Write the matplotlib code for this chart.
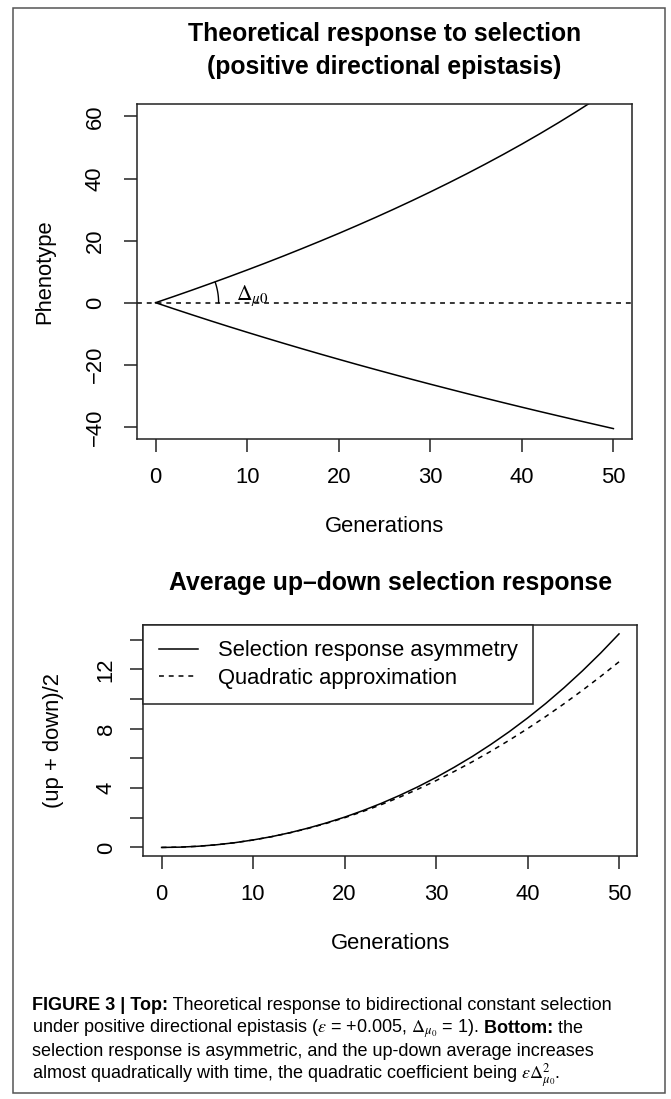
import numpy as np
import matplotlib
matplotlib.use('Agg')
import matplotlib.pyplot as plt
from matplotlib.patches import Rectangle
from matplotlib.ticker import FuncFormatter

plt.rcParams['font.family'] = ['Liberation Sans', 'DejaVu Sans']
plt.rcParams['mathtext.fontset'] = 'stix'

# Response to bidirectional selection, every 2 generations
generations = [0, 2, 4, 6, 8, 10, 12, 14, 16, 18, 20, 22, 24, 26, 28, 30,
               32, 34, 36, 38, 40, 42, 44, 46, 48, 50]
up = [0.00, 2.02, 4.08, 6.19, 8.34, 10.54, 12.78, 15.08, 17.44, 19.85, 22.31,
      24.85, 27.44, 30.11, 32.85, 35.67, 38.57, 41.55, 44.63, 47.80, 51.08,
      54.47, 57.98, 61.62, 65.39, 69.31]
down = [0.00, -1.98, -3.92, -5.83, -7.70, -9.53, -11.33, -13.10, -14.84,
        -16.55, -18.23, -19.89, -21.51, -23.11, -24.69, -26.24, -27.76,
        -29.27, -30.75, -32.21, -33.65, -35.07, -36.46, -37.84, -39.20, -40.55]
quadratic = [0.00, 0.02, 0.08, 0.18, 0.32, 0.50, 0.72, 0.98, 1.28, 1.62, 2.00,
             2.42, 2.88, 3.38, 3.92, 4.50, 5.12, 5.78, 6.48, 7.22, 8.00, 8.82,
             9.68, 10.58, 11.52, 12.50]
average = (np.array(up) + np.array(down)) / 2

x_ticks = [0, 10, 20, 30, 40, 50]
top_yticks = [-40, -20, 0, 20, 40, 60]
bottom_yticks = [0, 2, 4, 6, 8, 10, 12, 14]

W, H = 671, 1099
fig = plt.figure(figsize=(W / 100, H / 100), dpi=100)


def fx(px):
    return px / W


def fy(py):
    return 1 - py / H


def axes_px(left, top, right, bottom):
    return fig.add_axes([left / W, 1 - bottom / H, (right - left) / W, (bottom - top) / H])


BASE = 15.8
TITLE = 17.8
LW = 1.1
DASH = (0, (3.2, 3.2))

ax1 = axes_px(137.3, 104, 631.7, 439.3)
ax2 = axes_px(143.3, 625, 637.3, 856)

for ax, ypad in ((ax1, 13.0), (ax2, 9.5)):
    for s in ax.spines.values():
        s.set_linewidth(LW)
        s.set_color('#222222')
    ax.tick_params(axis='both', length=9.6, width=LW, color='#222222',
                   labelsize=BASE, direction='out')
    ax.tick_params(axis='x', pad=10.5)
    ax.tick_params(axis='y', pad=ypad, labelrotation=90)
    ax.set_xticks(x_ticks)
    ax.set_xlim(-2, 52)

# top panel: up and down selection lines
ax1.plot(generations, up, color='k', lw=LW)
ax1.plot(generations, down, color='k', lw=LW)
ax1.axhline(0, color='k', lw=LW, ls=DASH)
ax1.set_yticks(top_yticks)
ax1.set_ylim(-44, 64)
for lbl in ax1.get_yticklabels():
    lbl.set_va('center')

# angle mark between the initial slope and the zero line
o = ax1.transData.transform((0, 0))
d = ax1.transData.transform((generations[1], up[1])) - o
th = np.linspace(0, np.arctan2(d[1], d[0]), 30)
pts = np.column_stack([o[0] + 63 * np.cos(th), o[1] + 63 * np.sin(th)])
arc = ax1.transData.inverted().transform(pts)
ax1.plot(arc[:, 0], arc[:, 1], color='k', lw=1.0)
ax1.text(8.8, 1.0, r'$\Delta_{\mu0}$', fontsize=15.5, ha='left', va='baseline')

ax1.set_xlabel('Generations', fontsize=BASE)
ax1.set_ylabel('Phenotype', fontsize=BASE)
ax1.xaxis.set_label_coords(0.5, -(526.7 - 439.3) / (439.3 - 104))
ax1.yaxis.set_label_coords(-(137.3 - 45) / (631.7 - 137.3), 0.5)
ax1.xaxis.label.set_va('center')
ax1.yaxis.label.set_va('center')

# bottom panel: mean of both directions vs quadratic term
ax2.plot(generations, average, color='k', lw=LW, label='Selection response asymmetry')
ax2.plot(generations, quadratic, color='k', lw=LW, ls=DASH, label='Quadratic approximation')
ax2.set_yticks(bottom_yticks)
ax2.yaxis.set_major_formatter(FuncFormatter(lambda v, p: '%d' % v if int(v) % 4 == 0 else ''))
ax2.set_ylim(-0.576, 14.98)
for lbl in ax2.get_yticklabels():
    lbl.set_va('center')
leg = ax2.legend(loc='upper left', borderaxespad=0, fancybox=False, edgecolor='#222222',
                 framealpha=1, fontsize=BASE, handlelength=1.8, handletextpad=0.9,
                 borderpad=0.7, labelspacing=0.3)
leg.get_frame().set_linewidth(LW)

ax2.set_xlabel('Generations', fontsize=BASE)
ax2.set_ylabel('(up + down)/2', fontsize=BASE)
ax2.xaxis.set_label_coords(0.5, -(943.4 - 856) / (856 - 625))
ax2.yaxis.set_label_coords(-(143.3 - 53.3) / (637.3 - 143.3), 0.5)
ax2.xaxis.label.set_va('center')
ax2.yaxis.label.set_va('center')

# titles
fig.text(fx(384.5), fy(34), 'Theoretical response to selection', ha='center', va='center',
         fontsize=TITLE, fontweight='bold')
fig.text(fx(384.5), fy(67), '(positive directional epistasis)', ha='center', va='center',
         fontsize=TITLE, fontweight='bold')
fig.text(fx(390.3), fy(583), 'Average up\u2013down selection response', ha='center', va='center',
         fontsize=TITLE, fontweight='bold')

# outer frame
fig.add_artist(Rectangle((fx(12.7), fy(1093)), (665 - 12.7) / W, (1093 - 8.3) / H,
                         transform=fig.transFigure, fill=False, lw=LW, ec='#555555'))

# caption, written piece by piece so bold runs can sit inside a line
CAP_FONT = ['Liberation Sans Narrow', 'Liberation Sans']
CAP_SIZE = 13
renderer = fig.canvas.get_renderer()


def caption_line(y, parts):
    x = 32
    for txt, weight in parts:
        t = fig.text(fx(x), fy(y), txt, fontsize=CAP_SIZE, fontweight=weight,
                     family=CAP_FONT, ha='left', va='baseline')
        x = t.get_window_extent(renderer).x1


caption_line(1010, [('FIGURE 3 | Top:', 'bold'),
                    (' Theoretical response to bidirectional constant selection', 'normal')])
caption_line(1033, [(r'under positive directional epistasis ($\varepsilon$ = +0.005, '
                     r'$\Delta_{\mu_0}$ = 1).', 'normal'),
                    (' Bottom:', 'bold'), (' the', 'normal')])
caption_line(1056, [('selection response is asymmetric, and the up-down average increases',
                     'normal')])
caption_line(1079, [(r'almost quadratically with time, the quadratic coefficient being '
                     r'$\varepsilon\Delta^2_{\mu_0}$.', 'normal')])

fig.savefig('out.png', dpi=100)
